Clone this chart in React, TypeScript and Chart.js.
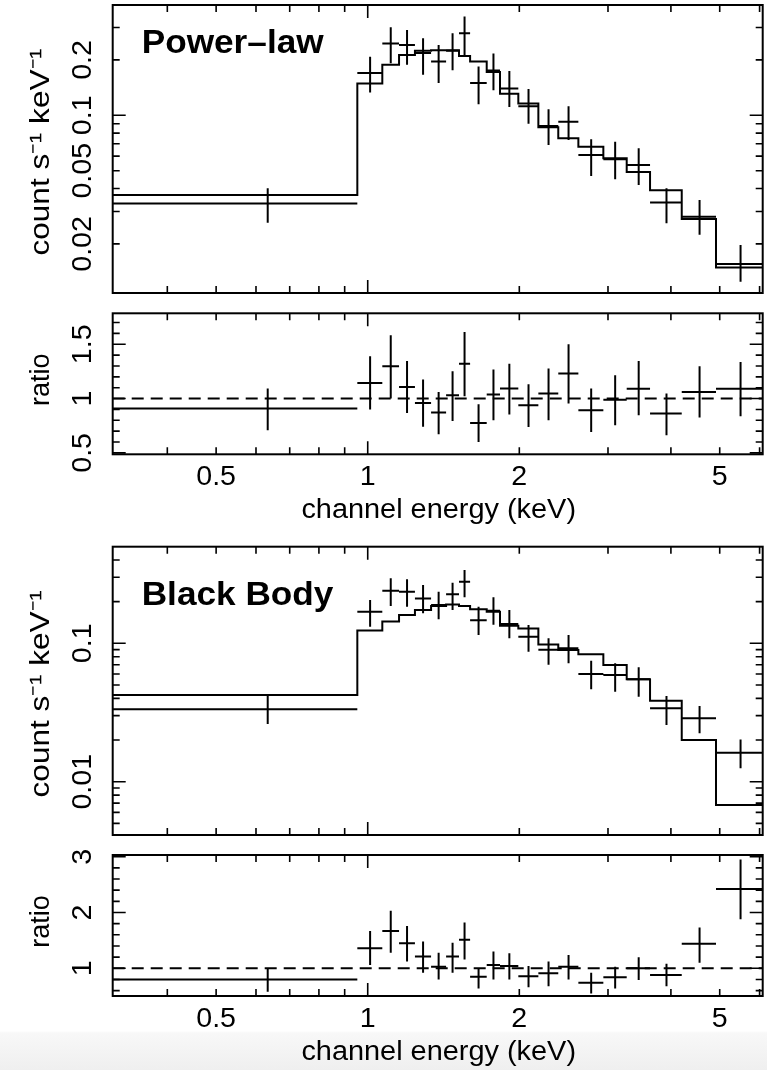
import React, { useEffect, useRef } from "react";
import { Chart, registerables } from "chart.js";

Chart.register(...registerables);

// ---------------- data ----------------
const X_MIN = 0.3116;
const X_MAX = 6.086;

// channel bin edges (keV) and bin centres
const BIN_EDGES = [
  0.3116, 0.9536, 1.069, 1.154, 1.241, 1.336, 1.431, 1.518, 1.597, 1.723, 1.831,
  1.991, 2.182, 2.39, 2.62, 2.937, 3.268, 3.636, 4.203, 4.916, 6.086,
];
const BIN_CENTERS = [
  0.633, 1.011, 1.111, 1.197, 1.288, 1.383, 1.474, 1.557, 1.66, 1.777, 1.911,
  2.086, 2.286, 2.505, 2.778, 3.1, 3.452, 3.92, 4.56, 5.5,
];

// Power-law fit: data (count s^-1 keV^-1), error limits and model
const PL_DATA = [
  0.0332, 0.17, 0.246, 0.241, 0.218, 0.196, 0.224, 0.279, 0.15, 0.175, 0.14,
  0.112, 0.0875, 0.0923, 0.0608, 0.0577, 0.0537, 0.0336, 0.0281, 0.01556,
];
const PL_LO = [
  0.0261, 0.133, 0.192, 0.188, 0.166, 0.15, 0.176, 0.213, 0.115, 0.137, 0.111,
  0.09, 0.069, 0.0734, 0.0468, 0.0449, 0.0418, 0.0259, 0.0224, 0.01246,
];
const PL_HI = [
  0.0401, 0.208, 0.301, 0.291, 0.262, 0.241, 0.279, 0.344, 0.184, 0.217, 0.174,
  0.139, 0.108, 0.112, 0.074, 0.0719, 0.0662, 0.0401, 0.0347, 0.0197,
];
const PL_MODEL = [
  0.0369, 0.149, 0.188, 0.213, 0.224, 0.226, 0.226, 0.21, 0.196, 0.172, 0.131,
  0.116, 0.086, 0.075, 0.0675, 0.0585, 0.0492, 0.0391, 0.0273, 0.0149,
];
const PL_RATIO = [
  0.908, 1.144, 1.297, 1.107, 0.96, 0.871, 1.03, 1.32, 0.775, 1.037, 1.092,
  0.938, 1.046, 1.23, 0.892, 0.99, 1.09, 0.862, 1.06, 1.09,
];
const PL_RATIO_LO = [
  0.708, 0.9, 1.0, 0.867, 0.74, 0.671, 0.794, 1.021, 0.6, 0.8, 0.853, 0.738,
  0.8, 0.954, 0.693, 0.754, 0.846, 0.662, 0.825, 0.837,
];
const PL_RATIO_HI = [
  1.092, 1.39, 1.583, 1.346, 1.175, 1.061, 1.251, 1.613, 0.947, 1.267, 1.32,
  1.132, 1.276, 1.5, 1.092, 1.215, 1.346, 1.046, 1.297, 1.337,
];

// Black-body fit
const BB_DATA = [
  0.0334, 0.169, 0.24, 0.236, 0.211, 0.189, 0.226, 0.279, 0.147, 0.172, 0.138,
  0.1116, 0.09, 0.092, 0.06, 0.059, 0.0549, 0.0339, 0.0287, 0.0162,
];
const BB_LO = [
  0.0261, 0.132, 0.186, 0.184, 0.165, 0.149, 0.174, 0.215, 0.115, 0.136, 0.109,
  0.087, 0.07, 0.0717, 0.0465, 0.0447, 0.0411, 0.0257, 0.0224, 0.0125,
];
const BB_HI = [
  0.0416, 0.2055, 0.295, 0.29, 0.264, 0.236, 0.274, 0.339, 0.184, 0.215, 0.174,
  0.1356, 0.109, 0.1148, 0.0749, 0.0717, 0.0671, 0.0416, 0.0352, 0.0202,
];
const BB_MODEL = [
  0.0423, 0.124, 0.144, 0.16, 0.174, 0.186, 0.191, 0.186, 0.176, 0.169, 0.134,
  0.128, 0.098, 0.0895, 0.0832, 0.0697, 0.0549, 0.0385, 0.02, 0.00679,
];
const BB_RATIO = [
  0.8, 1.36, 1.67, 1.45, 1.21, 1.03, 1.21, 1.51, 0.85, 1.06, 1.04, 0.86, 0.91,
  1.03, 0.74, 0.84, 1.0, 0.88, 1.44, 2.42,
];
const BB_RATIO_LO = [
  0.58, 1.06, 1.28, 1.12, 0.92, 0.8, 0.92, 1.16, 0.64, 0.8, 0.8, 0.66, 0.68,
  0.8, 0.55, 0.64, 0.79, 0.68, 1.1, 1.88,
];
const BB_RATIO_HI = [
  1.0, 1.67, 2.03, 1.76, 1.48, 1.28, 1.46, 1.82, 1.0, 1.3, 1.27, 1.04, 1.12,
  1.24, 0.92, 1.03, 1.2, 1.08, 1.73, 2.95,
];

// tick labels
const X_TICK_LABELS = [0.5, 1, 2, 5];
const PL_Y_LABELS = [0.02, 0.05, 0.1, 0.2];
const BB_Y_LABELS = [0.01, 0.1];
const PL_RATIO_LABELS = [0.5, 1, 1.5];
const BB_RATIO_LABELS = [1, 2, 3];

// axis ranges
const PL_Y_RANGE = [0.01082, 0.3977];
const BB_Y_RANGE = [0.00412, 0.499];
const PL_RATIO_RANGE = [0.487, 1.785];
const BB_RATIO_RANGE = [0.504, 3.03];

const X_TITLE = "channel energy (keV)";
const SPEC_Y_TITLE = "count s\u207B\u00B9 keV\u207B\u00B9";
const RATIO_Y_TITLE = "ratio";

// ---------------- layout / style ----------------
const PAGE_W = 767;
const PAGE_H = 1070;
const PLOT_LEFT = 112.7;
const PLOT_RIGHT = 762.7;
const FONT = '"Liberation Sans", Helvetica, Arial, sans-serif';
const INK = "#000";

type TickDef = { v: number; major: boolean };

function logTicks(min: number, max: number): TickDef[] {
  const out: TickDef[] = [];
  for (let e = Math.floor(Math.log10(min)); e <= Math.ceil(Math.log10(max)); e++) {
    for (let k = 1; k <= 9; k++) {
      const v = k * Math.pow(10, e);
      if (v >= min * 0.9999 && v <= max * 1.0001) out.push({ v, major: k === 1 });
    }
  }
  return out;
}

function linTicks(min: number, max: number, step: number, majors: number[]): TickDef[] {
  const out: TickDef[] = [];
  for (let i = Math.ceil(min / step - 1e-6); i * step <= max + 1e-6; i++) {
    const v = +(i * step).toFixed(6);
    out.push({ v, major: majors.some((m) => Math.abs(m - v) < 1e-6) });
  }
  return out;
}

type PanelCfg = {
  canvasTop: number;
  height: number;
  top: number;
  bottom: number;
  yType: "logarithmic" | "linear";
  yRange: number[];
  yLabels: number[];
  yTicks: TickDef[];
  yTitle: string;
  yTitleStretch: number;
  yTitleShift: number;
  xLabels: boolean;
  title?: string;
  titleBaseline?: number;
  values: number[];
  lo: number[];
  hi: number[];
  model?: number[];
  unityLine?: boolean;
};

const PANELS: PanelCfg[] = [
  {
    canvasTop: 0, height: 300, top: 5, bottom: 293,
    yType: "logarithmic", yRange: PL_Y_RANGE, yLabels: PL_Y_LABELS,
    yTicks: logTicks(PL_Y_RANGE[0], PL_Y_RANGE[1]),
    yTitle: SPEC_Y_TITLE, yTitleStretch: 1.17, yTitleShift: 3, xLabels: false,
    title: "Power\u2013law", titleBaseline: 53.3,
    values: PL_DATA, lo: PL_LO, hi: PL_HI, model: PL_MODEL,
  },
  {
    canvasTop: 300, height: 240, top: 313.3, bottom: 454.3,
    yType: "linear", yRange: PL_RATIO_RANGE, yLabels: PL_RATIO_LABELS,
    yTicks: linTicks(PL_RATIO_RANGE[0], PL_RATIO_RANGE[1], 0.1, PL_RATIO_LABELS),
    yTitle: RATIO_Y_TITLE, yTitleStretch: 1.0, yTitleShift: -4, xLabels: true,
    values: PL_RATIO, lo: PL_RATIO_LO, hi: PL_RATIO_HI, unityLine: true,
  },
  {
    canvasTop: 540, height: 302, top: 546.7, bottom: 835,
    yType: "logarithmic", yRange: BB_Y_RANGE, yLabels: BB_Y_LABELS,
    yTicks: logTicks(BB_Y_RANGE[0], BB_Y_RANGE[1]),
    yTitle: SPEC_Y_TITLE, yTitleStretch: 1.17, yTitleShift: 3, xLabels: false,
    title: "Black Body", titleBaseline: 604.7,
    values: BB_DATA, lo: BB_LO, hi: BB_HI, model: BB_MODEL,
  },
  {
    canvasTop: 842, height: 228, top: 855, bottom: 996,
    yType: "linear", yRange: BB_RATIO_RANGE, yLabels: BB_RATIO_LABELS,
    yTicks: linTicks(BB_RATIO_RANGE[0], BB_RATIO_RANGE[1], 0.2, BB_RATIO_LABELS),
    yTitle: RATIO_Y_TITLE, yTitleStretch: 1.0, yTitleShift: -4, xLabels: true,
    values: BB_RATIO, lo: BB_RATIO_LO, hi: BB_RATIO_HI, unityLine: true,
  },
];

const X_TICKS = logTicks(X_MIN, X_MAX);

function drawText(
  ctx: CanvasRenderingContext2D,
  text: string,
  x: number,
  y: number,
  opts: { rotate?: boolean; stretch?: number; align?: CanvasTextAlign }
) {
  ctx.save();
  ctx.translate(x, y);
  if (opts.rotate) ctx.rotate(-Math.PI / 2);
  ctx.scale(opts.stretch ?? 1, 1);
  ctx.textAlign = opts.align ?? "center";
  ctx.textBaseline = "alphabetic";
  ctx.fillText(text, 0, 0);
  ctx.restore();
}

const framePlugin = {
  id: "frame",
  afterDatasetsDraw(chart: any, _args: any, opts: any) {
    const cfg: PanelCfg = opts.cfg;
    if (!cfg) return;
    const { ctx, chartArea: a } = chart;
    const xs = chart.scales.x;
    const ys = chart.scales.y;
    const off = cfg.canvasTop;
    ctx.save();
    ctx.strokeStyle = INK;
    ctx.fillStyle = INK;
    // frame
    ctx.lineWidth = 2;
    ctx.strokeRect(a.left, a.top, a.right - a.left, a.bottom - a.top);
    // ticks (inward, on all four sides)
    ctx.lineWidth = 1.6;
    ctx.beginPath();
    for (const t of X_TICKS) {
      const px = xs.getPixelForValue(t.v);
      const len = t.major ? 13 : 7;
      ctx.moveTo(px, a.bottom);
      ctx.lineTo(px, a.bottom - len);
      ctx.moveTo(px, a.top);
      ctx.lineTo(px, a.top + len);
    }
    for (const t of cfg.yTicks) {
      const py = ys.getPixelForValue(t.v);
      const len = t.major ? 13 : 7;
      ctx.moveTo(a.left, py);
      ctx.lineTo(a.left + len, py);
      ctx.moveTo(a.right, py);
      ctx.lineTo(a.right - len, py);
    }
    ctx.stroke();

    ctx.font = `27px ${FONT}`;
    if (cfg.xLabels) {
      for (const v of X_TICK_LABELS) {
        drawText(ctx, String(v), xs.getPixelForValue(v), a.bottom + 31, { stretch: 1.06 });
      }
      drawText(ctx, X_TITLE, (a.left + a.right) / 2 + 1, a.bottom + 64, { stretch: 1.07 });
    }
    for (const v of cfg.yLabels) {
      drawText(ctx, String(v), 91, ys.getPixelForValue(v), { rotate: true, stretch: 1.06 });
    }
    drawText(ctx, cfg.yTitle, 49, (a.top + a.bottom) / 2 + cfg.yTitleShift, {
      rotate: true,
      stretch: cfg.yTitleStretch,
    });
    if (cfg.title) {
      ctx.font = `bold 34px ${FONT}`;
      drawText(ctx, cfg.title, 141.7, (cfg.titleBaseline as number) - off, {
        stretch: 1.035,
        align: "left",
      });
    }
    ctx.restore();
  },
};

function buildDatasets(cfg: PanelCfg) {
  const ds: any[] = [];
  const common = {
    showLine: true,
    pointRadius: 0,
    borderColor: INK,
    backgroundColor: INK,
    borderWidth: 2,
    fill: false,
    spanGaps: false,
    borderCapStyle: "butt",
  };
  if (cfg.unityLine) {
    ds.push({
      ...common,
      data: [
        { x: X_MIN, y: 1 },
        { x: X_MAX, y: 1 },
      ],
      borderDash: [12, 7],
    });
  }
  if (cfg.model) {
    const pts = cfg.model.map((m, i) => ({ x: BIN_EDGES[i], y: m }));
    pts.push({ x: BIN_EDGES[BIN_EDGES.length - 1], y: cfg.model[cfg.model.length - 1] });
    ds.push({ ...common, data: pts, stepped: "before" });
  }
  const cross: { x: number; y: number }[] = [];
  cfg.values.forEach((v, i) => {
    cross.push({ x: BIN_EDGES[i], y: v });
    cross.push({ x: BIN_EDGES[i + 1], y: v });
    cross.push({ x: BIN_CENTERS[i], y: NaN });
    cross.push({ x: BIN_CENTERS[i], y: cfg.lo[i] });
    cross.push({ x: BIN_CENTERS[i], y: cfg.hi[i] });
    cross.push({ x: BIN_CENTERS[i], y: NaN });
  });
  ds.push({ ...common, data: cross });
  return ds;
}

function Panel({ cfg }: { cfg: PanelCfg }) {
  const ref = useRef<HTMLCanvasElement | null>(null);
  useEffect(() => {
    if (!ref.current) return;
    const chart = new Chart(ref.current, {
      type: "scatter",
      data: { datasets: buildDatasets(cfg) },
      options: {
        animation: false,
        responsive: false,
        maintainAspectRatio: false,
        devicePixelRatio: 1,
        events: [],
        layout: {
          padding: {
            left: PLOT_LEFT,
            right: PAGE_W - PLOT_RIGHT,
            top: cfg.top - cfg.canvasTop,
            bottom: cfg.canvasTop + cfg.height - cfg.bottom,
          },
        },
        plugins: {
          legend: { display: false },
          tooltip: { enabled: false },
          frame: { cfg },
        } as any,
        scales: {
          x: { type: "logarithmic", min: X_MIN, max: X_MAX, display: false, bounds: "data" },
          y: { type: cfg.yType, min: cfg.yRange[0], max: cfg.yRange[1], display: false, bounds: "data" },
        } as any,
      },
      plugins: [framePlugin],
    } as any);
    return () => chart.destroy();
  }, [cfg]);
  return (
    <canvas
      ref={ref}
      width={PAGE_W}
      height={cfg.height}
      style={{
        position: "absolute",
        left: 0,
        top: cfg.canvasTop,
        width: PAGE_W,
        height: cfg.height,
        display: "block",
      }}
    />
  );
}

export default function App() {
  return (
    <div
      style={{
        position: "absolute",
        left: 0,
        top: 0,
        width: PAGE_W,
        height: PAGE_H,
        overflow: "hidden",
        background:
          "linear-gradient(to bottom, #ffffff 0px, #ffffff 1031px, #f8f8f8 1033px, #efefef 1070px)",
      }}
    >
      {PANELS.map((p, i) => (
        <Panel key={i} cfg={p} />
      ))}
    </div>
  );
}
